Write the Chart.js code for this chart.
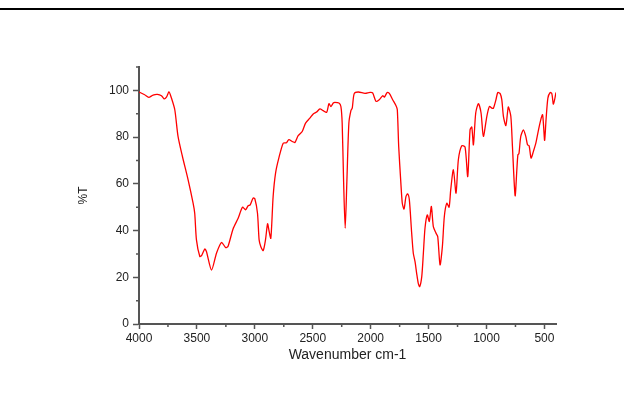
<!DOCTYPE html>
<html>
<head>
<meta charset="utf-8">
<script src="https://cdn.jsdelivr.net/npm/chart.js@4/dist/chart.umd.min.js"></script>
<style>
  html, body { margin: 0; padding: 0; background: #fff; }
  canvas { display: block; }
</style>
</head>
<body>
<canvas id="ir" width="624" height="412"></canvas>
<script>
// FT-IR spectrum: wavenumber (cm-1) against transmittance (%T)
const wavenumbers = [4000,3951,3916,3879,3841,3806,3784,3763,3741,3720,3691,3663,3625,3576,3533,3519,3504,3475,3460,3432,3418,3374,3331,3288,3251,3231,3188,3144,3106,3080,3058,3040,3015,3000,2977,2963,2948,2928,2908,2890,2879,2862,2842,2821,2793,2755,2727,2706,2677,2654,2626,2591,2562,2525,2496,2467,2438,2410,2380,2360,2343,2323,2309,2274,2257,2246,2234,2220,2205,2188,2170,2159,2142,2107,2049,2006,1983,1954,1926,1896,1882,1857,1839,1810,1781,1770,1758,1741,1727,1712,1695,1680,1666,1646,1632,1617,1603,1589,1577,1559,1545,1531,1511,1494,1476,1459,1436,1421,1401,1381,1364,1343,1323,1309,1286,1263,1243,1214,1185,1162,1142,1127,1113,1093,1070,1047,1027,997,975,954,940,920,902,882,868,854,833,819,811,790,776,753,738,729,720,704,681,661,646,632,615,595,574,551,528,516,507,498,486,470,450,436,422,400];
const transmittance = [99.3,98.1,97.0,98.0,98.3,97.7,96.4,97.1,99.4,96.7,91.7,80.3,71.7,61.7,51.7,47.4,36,28.9,29.3,32.1,31,23.1,30.3,34.9,32.7,33.3,40.7,45.3,50,48.9,50.6,51,53.9,53.6,47.4,36,33.1,31.4,36,42.9,40.3,36.7,54.6,64.6,71,77.4,77.6,78.9,78.1,77.7,80.6,82.4,86,88.1,89.9,90.7,92.1,91.3,90.6,94.3,93.1,94.6,94.9,94.6,93.1,86,61.7,41,61.7,86,91.4,92.4,98.6,99.3,98.7,99.1,98.9,95.3,96,97.7,97.1,99.1,98.7,96,93.4,91.7,76,61.7,51.7,49.2,54.6,55.7,53.1,38.9,30.3,26.7,21.7,17.4,16,20.3,30.3,41,46.7,43.9,50.3,41.7,38.9,37.4,25.3,33.1,46,51.7,50,57.4,66,56,70.3,76.3,75.7,63.1,83.1,84.3,76.7,90.3,94.3,90.3,80.3,88.9,93.1,92.4,92.4,95.7,99.1,98.6,96,88.9,84.9,90.3,92.9,88.9,76,54.9,66,72.4,72.9,80.3,83.1,80.3,76.7,76.3,71,73.9,77.4,83.1,88.1,89.6,84.6,78.6,87.4,96.7,99.1,98.6,94.1,99.1];

// Axis ranges, labelled ticks and unlabelled minor ticks
const xRange = [400, 4000];
const yRange = [0, 110];
const xTickValues = [4000, 3500, 3000, 2500, 2000, 1500, 1000, 500];
const yTickValues = [0, 20, 40, 60, 80, 100];
const xMinorValues = [3750, 3250, 2750, 2250, 1750, 1250, 750];
const yMinorValues = [10, 30, 50, 70, 90, 110];

const axisColor = '#555555';
const textColor = '#222222';
const fontFamily = 'Liberation Sans, Arial, sans-serif';

const points = wavenumbers.map((w, i) => ({ x: w, y: transmittance[i] }));

// Short unlabelled ticks between the labelled ones, placed with the scales
const minorTicks = {
  id: 'minorTicks',
  afterDraw(chart) {
    const { ctx, scales: { x, y } } = chart;
    ctx.save();
    ctx.strokeStyle = axisColor;
    ctx.lineWidth = 1.5;
    ctx.beginPath();
    xMinorValues.forEach(v => {
      const px = x.getPixelForValue(v);
      ctx.moveTo(px, y.bottom);
      ctx.lineTo(px, y.bottom + 3);
    });
    yMinorValues.forEach(v => {
      const py = y.getPixelForValue(v);
      ctx.moveTo(x.left, py);
      ctx.lineTo(x.left - 3, py);
    });
    ctx.stroke();
    ctx.restore();
  }
};

// Rule across the top of the page
const topRule = {
  id: 'topRule',
  beforeDraw(chart) {
    const { ctx, width } = chart;
    ctx.save();
    ctx.fillStyle = '#000';
    ctx.fillRect(0, 8, width, 2);
    ctx.restore();
  }
};

new Chart(document.getElementById('ir'), {
  type: 'line',
  data: {
    datasets: [{
      data: points,
      borderColor: '#ff0000',
      borderWidth: 1.3,
      pointRadius: 0,
      tension: 0.25,
      fill: false
    }]
  },
  options: {
    responsive: false,
    animation: false,
    devicePixelRatio: 1,
    layout: { padding: { top: 67, right: 68, left: 0, bottom: 0 } },
    plugins: { legend: { display: false }, tooltip: { enabled: false } },
    scales: {
      x: {
        type: 'linear',
        reverse: true,
        min: xRange[0],
        max: xRange[1],
        afterFit: s => { s.height = 88; },
        afterBuildTicks: s => { s.ticks = xTickValues.map(v => ({ value: v })); },
        ticks: {
          autoSkip: false,
          maxRotation: 0,
          minRotation: 0,
          padding: 2,
          color: textColor,
          font: { family: fontFamily, size: 12 },
          callback: v => String(v)
        },
        grid: {
          drawOnChartArea: false,
          drawTicks: true,
          tickLength: 5,
          tickColor: axisColor,
          tickWidth: 1.5
        },
        border: { display: true, color: axisColor, width: 2 },
        title: {
          display: true,
          text: 'Wavenumber cm-1',
          color: textColor,
          font: { family: fontFamily, size: 14 },
          padding: { top: 0, bottom: 48 }
        }
      },
      y: {
        type: 'linear',
        min: yRange[0],
        max: yRange[1],
        afterFit: s => { s.width = 139; },
        afterBuildTicks: s => { s.ticks = yTickValues.map(v => ({ value: v })); },
        ticks: {
          autoSkip: false,
          padding: 4,
          color: textColor,
          font: { family: fontFamily, size: 12 },
          callback: v => String(v)
        },
        grid: {
          drawOnChartArea: false,
          drawTicks: true,
          tickLength: 6,
          tickColor: axisColor,
          tickWidth: 1.5
        },
        border: { display: true, color: axisColor, width: 2 },
        title: {
          display: true,
          text: '%T',
          color: textColor,
          font: { family: fontFamily, size: 12 },
          padding: { top: 76, bottom: 0 }
        }
      }
    }
  },
  plugins: [minorTicks, topRule]
});
</script>
</body>
</html>
